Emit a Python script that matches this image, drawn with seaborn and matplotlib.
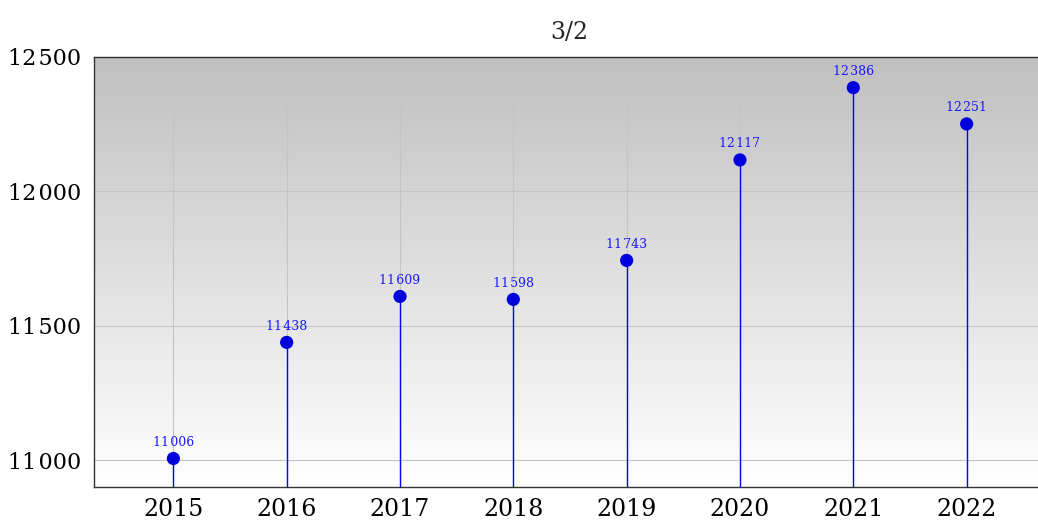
import matplotlib
matplotlib.use('Agg')
import matplotlib.pyplot as plt
from matplotlib.colors import LinearSegmentedColormap
import seaborn as sns
import numpy as np
import pandas as pd

# values
years = [2015, 2016, 2017, 2018, 2019, 2020, 2021, 2022]
values = [11006, 11438, 11609, 11598, 11743, 12117, 12386, 12251]
y_ticks = [11000, 11500, 12000, 12500]
title = '3/2'

df = pd.DataFrame({'year': years, 'value': values})

sns.set_style('white')
plt.rcParams['font.family'] = ['DejaVu Serif', 'DejaVu Sans']

SEP = '\u200a'


def fmt(v):
    return f'{v:,}'.replace(',', SEP)


fig = plt.figure(figsize=(10.38, 5.21), dpi=100)
ax = fig.add_axes([0.0906, 0.0653, 0.9094, 0.8253])

ymin, ymax = 10900, 12500
ax.set_xlim(2014.3, 2022.63)
ax.set_ylim(ymin, ymax)

# gray-to-white gradient background
bg = LinearSegmentedColormap.from_list('bg', ['#ffffff', '#c0c0c0'])
grad = np.linspace(0, 1, 256).reshape(-1, 1)
ax.imshow(grad, cmap=bg, aspect='auto', extent=[0, 1, 0, 1],
          transform=ax.transAxes, zorder=0, origin='lower')

ax.set_xticks(years)
ax.set_yticks(y_ticks)
ax.grid(True, color='#c4c4c4', linewidth=0.8, zorder=1)
ax.set_axisbelow(True)

# stems and markers
ax.vlines(df['year'], ymin, df['value'], color='#0000ff', linewidth=1, zorder=2)
sns.scatterplot(data=df, x='year', y='value', ax=ax, color='#0000dd',
                s=90, edgecolor='none', zorder=3, legend=False)

for x, v in zip(years, values):
    ax.annotate(fmt(v), (x, v), xytext=(0, 7), textcoords='offset points',
                ha='center', va='bottom', fontsize=9, color='#1a1aff')

ax.set_yticklabels([fmt(t) for t in y_ticks])
ax.set_xticklabels([str(y) for y in years])
ax.tick_params(axis='x', length=0, labelsize=17, colors='black', pad=8)
ax.tick_params(axis='y', length=0, labelsize=16, colors='black', pad=9)
ax.set_xlabel('')
ax.set_ylabel('')
ax.set_title(title, fontsize=17, pad=13, x=0.504)

for s in ['left', 'bottom', 'top']:
    ax.spines[s].set_visible(True)
    ax.spines[s].set_color('#333333')
    ax.spines[s].set_linewidth(1)
ax.spines['right'].set_visible(False)

fig.savefig('out.png', dpi=100)
